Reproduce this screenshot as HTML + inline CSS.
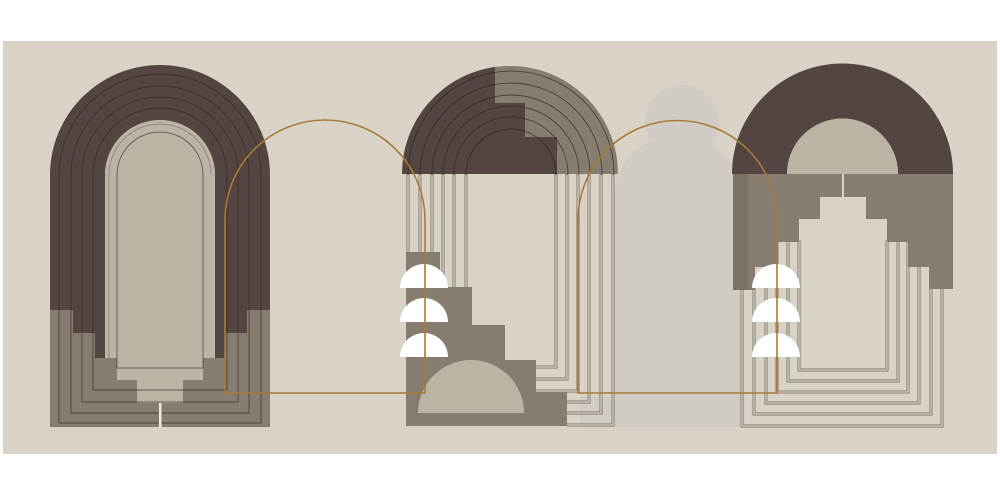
<!DOCTYPE html>
<html><head><meta charset="utf-8"><style>html,body{margin:0;padding:0;background:#fff}svg{display:block}</style></head>
<body>
<svg width="1000" height="500" viewBox="0 0 1000 500" xmlns="http://www.w3.org/2000/svg">
<rect x="0" y="0" width="1000" height="500" fill="#fff"/>
<rect x="3" y="41" width="994" height="413" fill="#d8d2c7"/>

<!-- ghost -->
<g fill="#d0ccc5">
<circle cx="682" cy="122" r="37"/>
<path d="M613,427 V200 A65,65 0 0 1 743,200 V427 Z"/>
<rect x="580" y="397" width="165" height="30"/>
</g>

<!-- ARCH 1 -->
<rect x="50" y="310" width="220" height="117" fill="#867d70"/>
<path d="M50,310 V175 A110,110 0 0 1 270,175 V310 H247 V333 H225 V358 H215 V175 A55,55 0 0 0 105,175 V358 H95 V333 H73 V310 Z" fill="#534542"/>
<path d="M105,358 V175 A55,55 0 0 1 215,175 V358 H203 V380 H183 V403 H137 V380 H117 V358 Z" fill="#bbb4a5"/>
<g fill="none" stroke="#2e2523" stroke-opacity="0.65" stroke-width="0.9">
<path d="M59,423 V175 A101,101 0 0 1 261,175 V423 Z"/>
<path d="M71,413 V175 A89,89 0 0 1 249,175 V413 Z"/>
<path d="M82,402 V175 A78,78 0 0 1 238,175 V402 Z"/>
<path d="M93,390 V175 A67,67 0 0 1 227,175 V390 Z"/>
<path d="M117,368 V175 A43,43 0 0 1 203,175 V368 Z"/>
<path d="M109,358 V175 A51,51 0 0 1 211,175" stroke-opacity="0.3"/>
</g>
<rect x="159" y="403" width="2.5" height="24" fill="#eee9df"/>

<!-- ARCH 2 -->
<path d="M402,174 A108,108 0 0 1 495,67 V103 H525 V137 H557 V174 Z" fill="#534542"/>
<path d="M495,67 A108,108 0 0 1 618,174 H557 V137 H525 V103 H495 Z" fill="#867d70"/>
<g fill="none" stroke="#2e2523" stroke-opacity="0.7" stroke-width="0.9">
<path d="M408,174 A103,103 0 0 1 614,174"/>
<path d="M420,174 A91,91 0 0 1 602,174"/>
<path d="M432,174 A79,79 0 0 1 590,174"/>
<path d="M443,174 A68,68 0 0 1 579,174"/>
<path d="M454,174 A57,57 0 0 1 568,174"/>
<path d="M466,174 A45,45 0 0 1 556,174"/>
</g>
<g fill="none" stroke="#7d7569" stroke-width="3">
<path d="M408,174 V252 M420,174 V252 M432,174 V252 M443,174 V287 M454,174 V287 M466,174 V287"/>
<path d="M556,174 V367 H536 M567,174 V379 H536 M578,174 V391 H536 M589,174 V402 H567 M601,174 V413 H567 M613,174 V425 H567"/>
</g>
<g fill="none" stroke="#d8d2c7" stroke-width="1.3">
<path d="M408,175 V252 M420,175 V252 M432,175 V252 M443,175 V287 M454,175 V287 M466,175 V287"/>
<path d="M556,175 V367 H536 M567,175 V379 H536 M578,175 V391 H536 M589,175 V402 H567 M601,175 V413 H567 M613,175 V425 H567"/>
</g>
<path d="M406,252 H440 V287 H472 V325 H505 V360 H536 V392 H567 V426 H406 Z" fill="#867d70"/>
<path d="M418,413 A53,53 0 0 1 524,413 Z" fill="#bbb4a5"/>

<!-- ARCH 3 -->
<path d="M732,174 A110,110 0 0 1 953,174 H898 A55,55 0 0 0 787,174 Z" fill="#534542"/>
<path d="M787,174 A55,55 0 0 1 898,174 Z" fill="#bbb4a5"/>
<g fill="none" stroke="#7d7569" stroke-width="3">
<path d="M799,240 V370 H887 V240"/>
<path d="M788,240 V381 H898 V240"/>
<path d="M777,240 V392 H908 V240"/>
<path d="M766,260 V403 H919 V260"/>
<path d="M754,280 V414 H931 V260"/>
<path d="M742,280 V426 H942 V280"/>
</g>
<g fill="none" stroke="#d8d2c7" stroke-width="1.3">
<path d="M799,240 V370 H887 V240"/>
<path d="M788,240 V381 H898 V240"/>
<path d="M777,240 V392 H908 V240"/>
<path d="M766,260 V403 H919 V260"/>
<path d="M754,280 V414 H931 V260"/>
<path d="M742,280 V426 H942 V280"/>
</g>
<path d="M733,174 H842 V197 H820 V219 H799 V242 H777 V267 H755 V290 H733 Z" fill="#867d70"/>
<path d="M844,174 H953 V289 H929 V267 H908 V242 H887 V219 H866 V197 H844 Z" fill="#867d70"/>
<rect x="733" y="174" width="15" height="116" fill="#7a7169"/>

<!-- white half discs -->
<g fill="#fff">
<path d="M400,288 A24,24 0 0 1 448,288 Z"/>
<path d="M400,322 A24,24 0 0 1 448,322 Z"/>
<path d="M400,357 A24,24 0 0 1 448,357 Z"/>
<path d="M752,288 A24,24 0 0 1 800,288 Z"/>
<path d="M752,322 A24,24 0 0 1 800,322 Z"/>
<path d="M752,357 A24,24 0 0 1 800,357 Z"/>
</g>

<!-- gold arches -->
<g fill="none" stroke="#a87a35" stroke-width="1.6">
<path d="M225,393 V220 A100,100 0 0 1 425,220 V393 Z"/>
<path d="M578,393 V220 A99.5,99.5 0 0 1 777,220 V393 Z"/>
</g>
</svg>
</body></html>
